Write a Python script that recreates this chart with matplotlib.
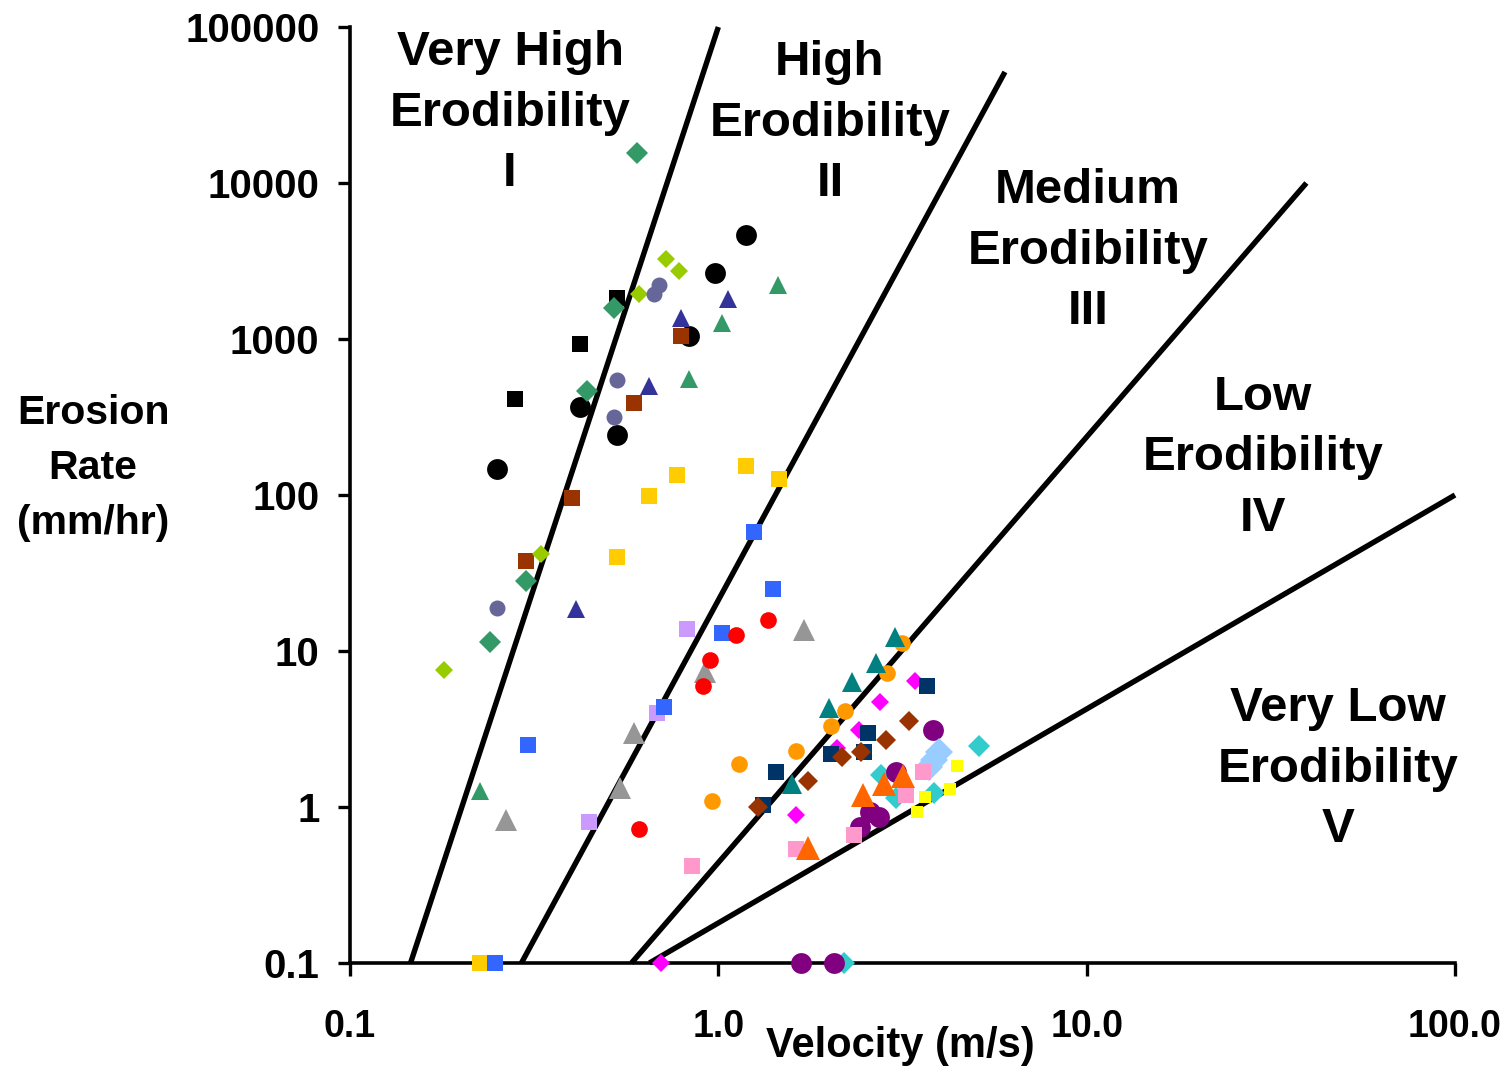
import matplotlib
matplotlib.use("Agg")
import matplotlib.pyplot as plt
from matplotlib.ticker import FixedLocator, FixedFormatter, NullLocator

plt.rcParams['font.family'] = ['Liberation Sans', 'DejaVu Sans']
plt.rcParams['font.weight'] = 'bold'

# ---- data (velocity m/s, erosion rate mm/hr) ----
black_circ_x = [0.25, 0.42, 0.53, 0.83, 0.98, 1.19]
black_circ_y = [147, 366, 243, 1045, 2650, 4650]
black_sq_x = [0.28, 0.42, 0.53]
black_sq_y = [410, 930, 1830]
brown_sq_x = [0.30, 0.40, 0.59, 0.79]
brown_sq_y = [38, 96, 390, 1045]
lime_dia_x = [0.18, 0.33, 0.61, 0.72, 0.78]
lime_dia_y = [7.5, 42, 1940, 3260, 2730]
green_dia_x = [0.24, 0.30, 0.44, 0.52, 0.60]
green_dia_y = [11.4, 28, 465, 1580, 15500]
slate_circ_x = [0.25, 0.52, 0.53, 0.67, 0.69]
slate_circ_y = [19, 316, 546, 1940, 2220]
blue_tri_x = [0.41, 0.65, 0.79, 1.06]
blue_tri_y = [18.6, 500, 1360, 1800]
green_tri_x = [0.225, 0.83, 1.02, 1.45]
green_tri_y = [1.27, 555, 1270, 2220]
gold_sq_x = [0.226, 0.53, 0.65, 0.77, 1.19, 1.46]
gold_sq_y = [0.1, 40, 99, 134, 153, 127]
lav_sq_x = [0.445, 0.68, 0.82]
lav_sq_y = [0.8, 4.0, 13.8]
blue_sq_x = [0.247, 0.305, 0.71, 1.02, 1.25, 1.41]
blue_sq_y = [0.1, 2.5, 4.4, 13, 58, 25]
gray_tri_x = [0.266, 0.54, 0.59, 0.92, 1.71]
gray_tri_y = [0.83, 1.32, 3.0, 7.3, 13.6]
red_circ_x = [0.61, 0.91, 0.95, 1.12, 1.36]
red_circ_y = [0.72, 6.0, 8.8, 12.7, 15.8]
mag_dia_x = [0.70, 1.62, 2.10, 2.41, 2.75, 3.42]
mag_dia_y = [0.1, 0.89, 2.4, 3.1, 4.7, 6.4]
orange_circ_x = [0.96, 1.14, 1.63, 2.02, 2.21, 2.87, 3.15]
orange_circ_y = [1.09, 1.9, 2.3, 3.3, 4.1, 7.2, 11.2]
navy_sq_x = [1.32, 1.43, 2.02, 2.49, 2.55, 3.68]
navy_sq_y = [1.03, 1.68, 2.2, 2.25, 3.0, 6.0]
brown_dia_x = [1.28, 1.75, 2.17, 2.44, 2.85, 3.29]
brown_dia_y = [1.0, 1.47, 2.1, 2.25, 2.7, 3.56]
teal_tri_x = [1.58, 2.0, 2.31, 2.68, 3.02]
teal_tri_y = [1.4, 4.3, 6.3, 8.4, 12.3]
cyan_dia_x = [2.19, 2.77, 3.03, 3.85, 5.1]
cyan_dia_y = [0.1, 1.6, 1.14, 1.23, 2.46]
purple_circ_x = [1.68, 2.06, 2.43, 2.58, 2.73, 3.03, 3.83]
purple_circ_y = [0.1, 0.1, 0.745, 0.93, 0.86, 1.68, 3.1]
lblue_dia_x = [3.73, 3.85, 3.97]
lblue_dia_y = [1.8, 2.0, 2.25]
pink_sq_x = [0.85, 1.63, 2.34, 3.23, 3.6]
pink_sq_y = [0.42, 0.54, 0.66, 1.19, 1.68]
orange_tri_x = [1.75, 2.47, 2.82, 3.17]
orange_tri_y = [0.55, 1.19, 1.4, 1.58]
yellow_sq_x = [3.46, 3.64, 4.25, 4.44]
yellow_sq_y = [0.93, 1.16, 1.3, 1.83]

# erodibility class boundaries (start, end)
bound_x = [(0.146, 1.0), (0.292, 6.0), (0.581, 39.5), (0.65, 100.0)]
bound_y = [(0.1, 100000), (0.1, 51500), (0.1, 10000), (0.1, 100)]

region_labels = ["Very High\nErodibility\nI", "High\nErodibility\nII",
                 "Medium\nErodibility\nIII", "Low\nErodibility\nIV",
                 "Very Low\nErodibility\nV"]

x_ticks = [0.1, 1, 10, 100]
x_tick_labels = ["0.1", "1.0", "10.0", "100.0"]
y_ticks = [0.1, 1, 10, 100, 1000, 10000, 100000]
y_tick_labels = ["0.1", "1", "10", "100", "1000", "10000", "100000"]

W, H = 1512, 1071
fig = plt.figure(figsize=(W / 100, H / 100), dpi=100)
ax = fig.add_axes([350 / W, 1 - 963 / H, (1455 - 350) / W, (963 - 27) / H])
ax.set_xscale('log')
ax.set_yscale('log')
ax.set_xlim(0.1, 100)
ax.set_ylim(0.1, 100000)

for (x0, x1), (y0, y1) in zip(bound_x, bound_y):
    ax.plot([x0, x1], [y0, y1], color='black', lw=3.9, solid_capstyle='butt',
            clip_on=False, zorder=2)

series = [
    (black_circ_x, black_circ_y, 'o', '#000000', 15),
    (black_sq_x, black_sq_y, 's', '#000000', 11.5),
    (brown_sq_x, brown_sq_y, 's', '#993300', 12),
    (lime_dia_x, lime_dia_y, 'D', '#99CC00', 9.5),
    (green_dia_x, green_dia_y, 'D', '#339966', 11.2),
    (slate_circ_x, slate_circ_y, 'o', '#666699', 11.5),
    (blue_tri_x, blue_tri_y, '^', '#333399', 13.5),
    (green_tri_x, green_tri_y, '^', '#339966', 13.5),
    (gold_sq_x, gold_sq_y, 's', '#FFCC00', 12),
    (lav_sq_x, lav_sq_y, 's', '#CC99FF', 12),
    (blue_sq_x, blue_sq_y, 's', '#3366FF', 12),
    (gray_tri_x, gray_tri_y, '^', '#969696', 16.5),
    (red_circ_x, red_circ_y, 'o', '#FF0000', 12),
    (mag_dia_x, mag_dia_y, 'D', '#FF00FF', 9.2),
    (orange_circ_x, orange_circ_y, 'o', '#FF9900', 12),
    (navy_sq_x, navy_sq_y, 's', '#003366', 11),
    (brown_dia_x, brown_dia_y, 'D', '#993300', 9.7),
    (teal_tri_x, teal_tri_y, '^', '#008080', 14),
    (cyan_dia_x, cyan_dia_y, 'D', '#33CCCC', 11),
    (purple_circ_x, purple_circ_y, 'o', '#800080', 15),
    (lblue_dia_x, lblue_dia_y, 'D', '#99CCFF', 14),
    (pink_sq_x, pink_sq_y, 's', '#FF99CC', 12),
    (orange_tri_x, orange_tri_y, '^', '#FF6600', 17),
    (yellow_sq_x, yellow_sq_y, 's', '#FFFF00', 8.5),
]
for i, (xs, ys, m, c, ms) in enumerate(series):
    ax.plot(xs, ys, linestyle='none', marker=m, markersize=ms,
            markerfacecolor=c, markeredgecolor=c, markeredgewidth=0,
            clip_on=False, zorder=3 + i * 0.01)

for s in ['top', 'right']:
    ax.spines[s].set_visible(False)
for s in ['left', 'bottom']:
    ax.spines[s].set_linewidth(2.6)
    ax.spines[s].set_zorder(2.5)

ax.xaxis.set_major_locator(FixedLocator(x_ticks))
ax.xaxis.set_major_formatter(FixedFormatter(x_tick_labels))
ax.yaxis.set_major_locator(FixedLocator(y_ticks))
ax.yaxis.set_major_formatter(FixedFormatter(y_tick_labels))
ax.xaxis.set_minor_locator(NullLocator())
ax.yaxis.set_minor_locator(NullLocator())
ax.tick_params(axis='both', which='major', direction='out', length=9,
               width=2.4)
ax.tick_params(axis='x', pad=24, labelsize=27)
ax.tick_params(axis='y', pad=13, labelsize=29)
for lab in ax.get_xticklabels() + ax.get_yticklabels():
    lab.set_fontweight('bold')

# axis titles
fig.text(93 / W, 1 - 468 / H, "Erosion\nRate\n(mm/hr)", ha='center',
         va='center', fontsize=29.5, fontweight='bold', linespacing=1.55)
fig.text(900 / W, 1 - 1046 / H, "Velocity (m/s)", ha='center', va='center',
         fontsize=30, fontweight='bold')

label_pos = [(510, 113), (830, 123), (1088, 251), (1263, 458), (1338, 769)]
for (px, py), txt in zip(label_pos, region_labels):
    fig.text(px / W, 1 - py / H, txt, ha='center', va='center',
             fontsize=35.5, fontweight='bold', linespacing=1.45)

fig.savefig("out.png", dpi=100)
